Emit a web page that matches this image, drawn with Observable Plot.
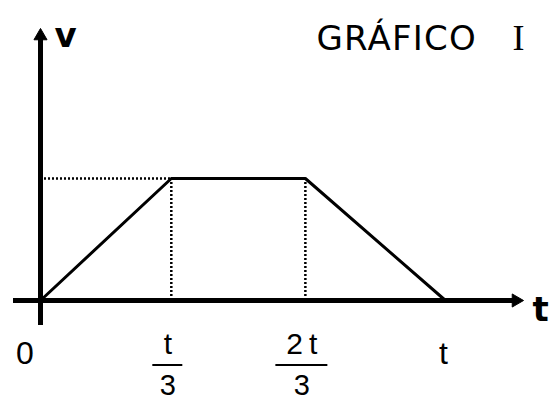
<!DOCTYPE html>
<html>
<head>
<meta charset="utf-8">
<script src="https://cdn.jsdelivr.net/npm/d3@7"></script>
<script src="https://cdn.jsdelivr.net/npm/@observablehq/plot@0.6"></script>
<style>
  html, body { margin: 0; padding: 0; background: #fff; }
  #chart svg { display: block; }
  .chart-title text { letter-spacing: 1.2px; }
</style>
</head>
<body>
<div id="chart"></div>
<script>
// ---- data ----
const times = [0, 0.323, 0.654, 1];          // 0, t/3, 2t/3, t
const velocities = [0, 1, 1, 0];             // v(t): accelerate, constant, decelerate
const tickPositions = [0, 0.323, 0.654, 1];
const tickNumerators = ["0", "t", "2\u2009t", "t"];
const tickDenominators = ["", "3", "3", ""];
const titleText = "GRÁFICO";
const titleNumeral = "I";
const yAxisLabel = "v";
const xAxisLabel = "t";

// ---- build ----
const W = 550, H = 400;
const xRange = [40, 445], yRange = [300, 178];
const pxPerX = (xRange[1] - xRange[0]);
const pxPerY = (yRange[0] - yRange[1]);
const pxToX = px => (px - xRange[0]) / pxPerX;
const pxToY = py => (yRange[0] - py) / pxPerY;

const profile = times.map((t, i) => ({t, v: velocities[i]}));
const ticks = tickPositions.map((x, i) => ({x, num: tickNumerators[i], den: tickDenominators[i]}));
const origin = ticks.filter(d => !d.den && d.x === 0);
const endTick = ticks.filter(d => !d.den && d.x !== 0);
const fracs = ticks.filter(d => d.den);

const xAxisEnd = pxToX(515.5);
const yAxisEnd = pxToY(35.5);
const labelFont = "Liberation Sans, Arial, sans-serif";

const chart = Plot.plot({
  width: W,
  height: H,
  margin: 0,
  style: {background: "#fff", color: "#000", overflow: "visible"},
  x: {domain: [0, 1], range: xRange, axis: null},
  y: {domain: [0, 1], range: yRange, axis: null},
  marks: [
    // dotted guides
    Plot.ruleX([times[1], times[2]], {y1: 0, y2: velocities[1], stroke: "#000", strokeWidth: 2.5, strokeDasharray: "2,2"}),
    Plot.ruleY([velocities[1]], {x1: 0, x2: times[1], stroke: "#000", strokeWidth: 2.5, strokeDasharray: "2,2"}),
    // axes
    Plot.ruleY([0], {x1: pxToX(13), x2: xAxisEnd, stroke: "#000", strokeWidth: 5}),
    Plot.ruleX([0], {y1: pxToY(325), y2: yAxisEnd, stroke: "#000", strokeWidth: 5}),
    Plot.dot([{x: xAxisEnd, y: 0}], {x: "x", y: "y", symbol: "triangle", r: 4.85, fill: "#000", stroke: "#000", strokeWidth: 1, rotate: 90}),
    Plot.dot([{x: 0, y: yAxisEnd}], {x: "x", y: "y", symbol: "triangle", r: 4.85, fill: "#000", stroke: "#000", strokeWidth: 1, rotate: 0}),
    // velocity profile
    Plot.line(profile, {x: "t", y: "v", stroke: "#000", strokeWidth: 3, strokeLinejoin: "miter"}),
    // plain tick labels
    Plot.text(origin, {x: "x", y: 0, text: "num", dx: -15.5, dy: 63, lineAnchor: "bottom", textAnchor: "middle",
      fontFamily: labelFont, fontSize: 32}),
    Plot.text(endTick, {x: "x", y: 0, text: "num", dx: -2, dy: 63, lineAnchor: "bottom", textAnchor: "middle",
      fontFamily: labelFont, fontSize: 32}),
    // fraction tick labels
    Plot.text(fracs, {x: "x", y: 0, text: "num", dx: -3.5, dy: 53, lineAnchor: "bottom", textAnchor: "middle",
      fontFamily: labelFont, fontSize: 30}),
    Plot.ruleY(fracs, {y: 0, x1: d => d.x - ((d.num.length > 1 ? 26 : 15) + 3.5) / pxPerX,
      x2: d => d.x + ((d.num.length > 1 ? 26 : 15) - 3.5) / pxPerX, dy: 64.5, stroke: "#000", strokeWidth: 2}),
    Plot.text(fracs, {x: "x", y: 0, text: "den", dx: -3.5, dy: 94, lineAnchor: "bottom", textAnchor: "middle",
      fontFamily: labelFont, fontSize: 29}),
    // axis labels
    Plot.text([yAxisLabel], {frameAnchor: "top-left", text: d => d, dx: 54, dy: 46, lineAnchor: "bottom", textAnchor: "start",
      fontFamily: "DejaVu Sans", fontWeight: "bold", fontSize: 34}),
    Plot.text([xAxisLabel], {frameAnchor: "top-left", text: d => d, dx: 532, dy: 320, lineAnchor: "bottom", textAnchor: "start",
      fontFamily: "DejaVu Sans", fontWeight: "bold", fontSize: 34}),
    // title
    Plot.text([titleText], {frameAnchor: "top-left", text: d => d, dx: 316, dy: 49, lineAnchor: "bottom", textAnchor: "start",
      fontFamily: "DejaVu Sans", fontSize: 34, className: "chart-title"}),
    Plot.text([titleNumeral], {frameAnchor: "top-left", text: d => d, dx: 518, dy: 49, lineAnchor: "bottom", textAnchor: "middle",
      fontFamily: "Liberation Serif", fontSize: 36})
  ]
});
document.getElementById("chart").appendChild(chart);
</script>
</body>
</html>
